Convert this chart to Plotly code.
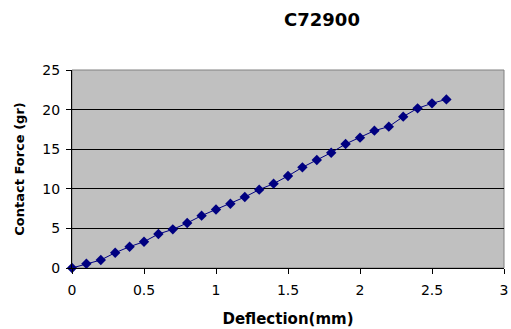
import plotly.graph_objects as go

# Deflection (mm) and measured contact force (gr)
deflection = [0.0, 0.1, 0.2, 0.3, 0.4, 0.5, 0.6, 0.7, 0.8, 0.9,
              1.0, 1.1, 1.2, 1.3, 1.4, 1.5, 1.6, 1.7, 1.8, 1.9,
              2.0, 2.1, 2.2, 2.3, 2.4, 2.5, 2.6]
force = [0.0, 0.54, 1.01, 1.93, 2.69, 3.32, 4.29, 4.88, 5.68, 6.61,
         7.39, 8.12, 8.96, 9.89, 10.65, 11.62, 12.71, 13.64, 14.56, 15.66,
         16.46, 17.34, 17.85, 19.11, 20.16, 20.79, 21.29]

x_ticks = [0, 0.5, 1, 1.5, 2, 2.5, 3]
x_tick_text = ["0", "0.5", "1", "1.5", "2", "2.5", "3"]
y_ticks = [0, 5, 10, 15, 20, 25]

font_family = "DejaVu Sans, Verdana, sans-serif"

fig = go.Figure()
fig.add_trace(go.Scatter(
    x=deflection, y=force, mode="lines+markers",
    line=dict(color="#000080", width=1),
    marker=dict(symbol="diamond", size=8, color="#000080"),
    cliponaxis=False, showlegend=False,
))

# Gray frame around the plot area
fig.add_shape(type="rect", xref="paper", yref="paper", x0=0, y0=0, x1=1, y1=1,
              line=dict(color="#808080", width=1), layer="below")

fig.update_layout(
    width=511, height=329,
    margin=dict(l=72, r=7, t=70, b=61),
    paper_bgcolor="white", plot_bgcolor="#C0C0C0",
    font=dict(family=font_family, size=14, color="black"),
    title=dict(text="<b>C72900</b>", x=322 / 511, xanchor="center",
               xref="container", y=1 - 20 / 329, yref="container",
               yanchor="middle", font=dict(size=18)),
    xaxis=dict(range=[0, 3], tickvals=x_ticks, ticktext=x_tick_text,
               showgrid=False, zeroline=False, showline=True,
               linecolor="black", linewidth=1, ticks="outside",
               ticklen=5, tickcolor="black", ticklabelstandoff=4,
               automargin=False,
               title=dict(text="<b>Deflection(mm)</b>", standoff=16,
                          font=dict(size=15))),
    yaxis=dict(range=[0, 25], tickvals=y_ticks, showgrid=True,
               gridcolor="black", gridwidth=1, zeroline=False,
               showline=True, linecolor="black", linewidth=1,
               ticks="outside", ticklen=5, tickcolor="black",
               ticklabelstandoff=3, automargin=False,
               title=dict(text="<b>Contact Force (gr)</b>", standoff=14,
                          font=dict(size=13))),
)

fig.write_html("out.html")
